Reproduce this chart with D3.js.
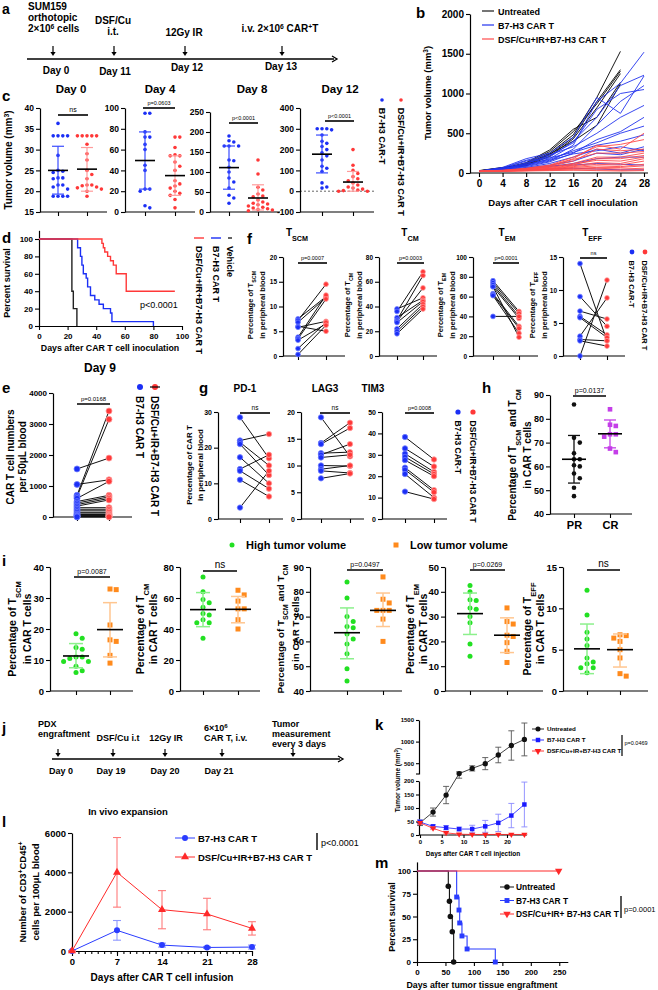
<!DOCTYPE html>
<html>
<head>
<meta charset="utf-8">
<script src="https://cdn.jsdelivr.net/npm/d3@7"></script>
<style>
  body { margin: 0; background: #fff; }
  svg { display: block; font-family: "Liberation Sans", Arial, sans-serif; }
</style>
</head>
<body>
<script>
// ---------------- data ----------------
// a: treatment timeline
const aDays = ["Day 0", "Day 11", "Day 12", "Day 13"]
// b: individual tumour growth curves
const bDays = [0, 4, 8, 12, 16, 20, 24, 28]
const bUntreated = [
  [25, 60, 110, 250, 480, 950, 1530],
  [28, 65, 95, 230, 450, 900, 1300],
  [22, 55, 120, 270, 520, 870, 1280],
  [30, 70, 90, 210, 430, 820, 1250],
  [24, 58, 130, 290, 550, 700, 1140],
  [26, 62, 100, 240, 400, 600, 1120]
]
const bB7H3 = [
  [20, 50, 100, 180, 350, 900, 1130, 1520],
  [22, 60, 150, 200, 400, 700, 1100, 1230],
  [25, 70, 180, 250, 450, 950, 750, 1220],
  [18, 40, 90, 150, 300, 600, 900, 1100],
  [20, 55, 120, 220, 380, 800, 1000, 1050],
  [24, 65, 160, 230, 330, 500, 700, 850],
  [21, 45, 80, 140, 250, 420, 520, 700],
  [19, 50, 110, 170, 280, 380, 500, 590],
  [23, 48, 130, 190, 260, 350, 400, 480],
  [20, 40, 70, 120, 200, 300, 250, 330],
  [18, 35, 60, 100, 150, 250, 230, 300],
  [22, 50, 100, 160, 240, 280, 330, 280],
  [20, 30, 50, 80, 120, 180, 200, 200],
  [19, 35, 60, 90, 100, 120, 110, 100],
  [21, 25, 40, 50, 60, 50, 40, 40]
]
const bCombo = [
  [20, 30, 50, 90, 180, 350, 300, 500],
  [22, 35, 60, 100, 200, 330, 360, 420],
  [18, 28, 45, 80, 150, 300, 280, 300],
  [21, 32, 55, 90, 170, 250, 250, 270],
  [19, 30, 50, 70, 120, 200, 200, 250],
  [20, 25, 40, 60, 100, 180, 180, 220],
  [23, 30, 45, 70, 110, 160, 150, 200],
  [20, 28, 40, 55, 90, 130, 120, 180],
  [18, 25, 35, 50, 80, 110, 100, 150],
  [22, 30, 40, 50, 70, 90, 80, 110],
  [20, 25, 35, 45, 60, 70, 70, 90],
  [19, 22, 30, 40, 50, 60, 50, 60],
  [21, 25, 30, 35, 40, 40, 35, 40],
  [20, 20, 25, 30, 35, 30, 25, 30]
]
// c: tumour volume per day  (stats = [mean, lower, upper])
const cDay0B7 = [36.3, 33.3, 33.3, 33.3, 33.3, 28.6, 25, 24.8, 24.5, 23.2, 23.2, 23, 21.5, 21.5, 21, 20.5, 18.8, 18.8, 18.8, 18.8]
const cDay0Combo = [33.3, 33.3, 33.3, 33.3, 33.3, 31.3, 29, 27.5, 25, 24, 23, 21.5, 21.5, 21.3, 21, 20.8, 20.5, 20, 18.8]
const cDay0Stats = [[25, 19.3, 30.8], [25.3, 20, 30.5]]
const cDay4B7 = [95, 95, 77, 72, 72, 65, 60, 45, 40, 22, 22, 20, 6, 4]
const cDay4Combo = [72, 72, 62, 55, 54, 54, 48, 44, 40, 30, 27, 25, 23, 20, 18, 16, 12, 4]
const cDay4Stats = [[49.5, 22, 77], [35, 16, 54]]
const cDay8B7 = [190, 178, 175, 165, 165, 165, 130, 128, 112, 100, 85, 75, 60, 42, 35, 22]
const cDay8Combo = [130, 95, 62, 55, 45, 40, 38, 30, 25, 22, 20, 18, 15, 12, 10, 8, 6, 5, 3]
const cDay8Stats = [[111, 57, 165], [35, 5, 68]]
const cDay12B7 = [300, 300, 300, 295, 270, 240, 230, 215, 200, 185, 170, 150, 120, 110, 95, 40, 20, 15]
const cDay12Combo = [200, 125, 100, 85, 70, 60, 50, 40, 30, 20, 15, 10, 5, 3, 0, 0]
const cDay12Stats = [[178, 88, 270], [44, 0, 95]]
// d: survival, [day, percent]
const dVehicle = [[0, 100], [23, 40], [24, 20], [26.5, 0]]
const dB7H3 = [[0, 100], [27, 90], [29, 80], [30, 70], [31, 60], [33, 55], [34, 45], [36, 35], [39, 30], [42, 25], [45, 20], [50, 15], [51, 5], [80, 0]]
const dCombo = [[0, 100], [44, 95], [45, 90], [46, 85], [48, 80], [50, 75], [52, 70], [54, 60], [61, 40], [95, 40]]
// e: CAR T numbers day 9 (paired)
const eB7 = [1550, 1050, 700, 650, 600, 500, 450, 400, 350, 300, 250, 200, 150, 100, 80, 50, 30, 20, 10, 5]
const eCombo = [1900, 1200, 3420, 3150, 1150, 700, 650, 600, 550, 300, 250, 200, 150, 100, 80, 50, 30, 20, 10, 5]
// f: T cell subsets (paired)
const fScmB7 = [7.5, 7.2, 6.8, 6, 5.8, 3.8, 3.5, 3.2, 1.5, 0.3]
const fScmCombo = [12, 14.5, 11.8, 5, 7, 12.3, 11.5, 6.5, 6.8, 6.2]
const fCmB7 = [38, 36, 31, 29, 28, 27, 22, 20, 18]
const fCmCombo = [47, 68, 45, 65, 55, 44, 42, 40, 38]
const fEmB7 = [76, 74, 72, 70, 63, 62, 61, 40, 70]
const fEmCombo = [45, 43, 40, 38, 30, 28, 23, 40, 19]
const fEffB7 = [14, 9, 6.8, 6, 5.8, 3, 2.5, 2.3, 0]
const fEffCombo = [2.3, 4.5, 5.6, 3.2, 2.8, 8.8, 2.3, 1.5, 11.5]
// g: exhaustion markers (paired)
const gPd1B7 = [28.5, 22, 21.5, 21, 17.3, 14, 13.5, 11, 3.2]
const gPd1Combo = [17, 23.8, 15, 12.3, 10, 18, 8.5, 6.3, 13.5]
const gLag3B7 = [19, 14.2, 14, 12.3, 12, 11.5, 10, 9.3, 9, 7.6]
const gLag3Combo = [11.7, 18, 17, 12.5, 14, 12, 9.9, 10, 8.6, 8.5]
const gTim3B7 = [38.3, 33, 30.5, 29, 27.5, 24, 23, 21, 12.8]
const gTim3Combo = [27.8, 24.5, 22, 21, 20, 13.5, 12.5, 10, 9.3]
// h: responders
const hPR = [86, 72, 70, 65.5, 63, 63, 60, 60.5, 57, 55, 51, 47.5]
const hCR = [84, 77.5, 77, 73.5, 73.5, 72.5, 67.5, 66]
const hStats = [[63, 53, 73], [73.7, 67.8, 79.5]]
// i: high vs low tumour volume
const iScmHigh = [18.5, 17, 14, 13.5, 11, 11, 10.5, 9.5, 9.5, 8, 6.5, 6]
const iScmLow = [32.7, 32.9, 21.3, 16.5, 16, 11.5, 9]
const iScmStats = [[11.3, 7.5, 15.3], [19.8, 11, 28.5]]
const iCmHigh = [73.5, 64, 59, 57, 54, 50, 49, 46, 44, 44, 34]
const iCmLow = [65, 62, 58, 53, 53, 46, 40]
const iCmStats = [[52.5, 41.5, 63.5], [52.7, 44, 61]]
const iScmCmHigh = [84, 77.5, 70, 68, 66, 65.5, 63, 61, 59, 55, 49, 44]
const iScmCmLow = [86, 77, 75.5, 72.5, 72.5, 72.5, 69, 60]
const iScmCmStats = [[63.5, 53, 73.5], [72.5, 66, 79.5]]
const iEmHigh = [42.5, 40, 36.8, 36.5, 33.5, 33, 30, 27.5, 19, 14]
const iEmLow = [33.5, 28, 27, 22.5, 22, 19.5, 16, 11.5]
const iEmStats = [[31.2, 22.8, 39.5], [22.5, 15.5, 29.5]]
const iEffHigh = [12.2, 9.2, 7.1, 6.3, 5.5, 4, 3.5, 3.3, 2.8, 2.8, 2.2]
const iEffLow = [6.8, 6.7, 6.4, 6, 5, 4, 2.1, 1.8]
const iEffStats = [[5.1, 2.1, 8.1], [5, 2.9, 6.9]]
// j: PDX timeline
const jDays = ["Day 0", "Day 19", "Day 20", "Day 21"]
// k: PDX tumour volume (mean, sd)
const kDays = [0, 3, 6, 9, 12, 15, 18, 21, 24]
const kUnt = [45, 85, 148, 260, 380, 490, 690, 910, 1050]
const kUntSd = [10, 15, 32, 40, 60, 140, 180, 340, 380]
const kB7 = [48, 32, 27, 22, 22, 32, 45, 72, 113]
const kB7Sd = [8, 6, 8, 7, 14, 22, 32, 45, 83]
const kCombo = [45, 25, 8, 3, 2, 2, 2, 2, 2]
const kComboSd = [5, 5, 4, 2, 1, 1, 1, 1, 1]
// l: in vivo expansion
const lDays = [0, 7, 14, 21, 28]
const lB7 = [0, 1050, 300, 180, 200]
const lB7Sd = [0, 500, 100, 50, 100]
const lCombo = [0, 4000, 2100, 1880, 1150]
const lComboSd = [0, 1770, 970, 800, 340]
// m: PDX survival
const mUnt = [[0, 100], [55, 83.3], [57, 66.7], [58.6, 50], [62, 33.3], [64.4, 0]]
const mB7 = [[0, 100], [69.7, 71.4], [73.8, 57.1], [75, 42.9], [79, 28.6], [88, 14.3], [137.6, 0]]
const mCombo = [[0, 100], [249, 100]]

// ---------------- helpers ----------------
const BLUE = "#1b2ff5", RED = "#ff3838", GREEN = "#22e022", ORANGE = "#ff8a1c", PURPLE = "#c43ee8"
const plain = d => String(d)
const svg = d3.select("body").append("svg").attr("width", 658).attr("height", 990)

function rich(t, str) {
  str.split(/(_\{[^}]*\}|\^\{[^}]*\})/).forEach(p => {
    if (!p) return
    if (p.startsWith("_{")) t.append("tspan").attr("baseline-shift", "sub").attr("font-size", "72%").text(p.slice(2, -1))
    else if (p.startsWith("^{")) t.append("tspan").attr("baseline-shift", "super").attr("font-size", "68%").text(p.slice(2, -1))
    else t.append("tspan").text(p)
  })
}
function txt(x, y, str, size, o = {}) {
  const t = svg.append("text").attr("x", x).attr("y", y).attr("font-size", size)
    .attr("font-weight", o.normal ? "normal" : "bold")
    .attr("text-anchor", o.anchor || "start").attr("fill", o.fill || "#000")
  if (o.rot) t.attr("transform", `rotate(${o.rot},${x},${y})`)
  rich(t, str)
  return t
}
function hline(x1, x2, y, w = 1.2, c = "#000") {
  svg.append("line").attr("x1", x1).attr("x2", x2).attr("y1", y).attr("y2", y).attr("stroke", c).attr("stroke-width", w)
}
function vline(x, y1, y2, w = 1.2, c = "#000") {
  svg.append("line").attr("x1", x).attr("x2", x).attr("y1", y1).attr("y2", y2).attr("stroke", c).attr("stroke-width", w)
}
function styleAxis(g, size) {
  g.attr("font-family", null).attr("font-size", size).attr("font-weight", "bold")
  g.select(".domain").attr("stroke-width", 1.2)
  g.selectAll(".tick line").attr("stroke-width", 1.1)
  return g
}
function yAxis(x, y, ticks, size, tick = 4) {
  const g = svg.append("g").attr("transform", `translate(${x},0)`)
    .call(d3.axisLeft(y).tickValues(ticks).tickSize(tick).tickSizeOuter(0).tickPadding(2).tickFormat(plain))
  return styleAxis(g, size)
}
// category axis: base line from x0 to xEnd, ticks at the group centres
function catAxis(x0, xEnd, yb, xs, labels, size) {
  hline(x0, xEnd, yb)
  const g = svg.append("g").attr("transform", `translate(0,${yb})`)
    .call(d3.axisBottom(xs).tickSize(4).tickSizeOuter(0).tickPadding(3).tickFormat(labels ? d => d : ""))
  styleAxis(g, size)
  g.select(".domain").remove()
}
function swarm(vals, y, cx, r) {
  const placed = []
  const step = 2 * r + 1.2
  return vals.slice().sort((a, b) => b - a).map(v => {
    const py = y(v)
    let off = 0
    for (let k = 0; k < 40; k++) {
      off = (k % 2 === 1 ? 1 : -1) * Math.ceil(k / 2) * step
      if (!placed.some(p => Math.abs(p.y - py) < 2 * r + 0.6 && Math.abs(p.x - (cx + off)) < step - 0.1)) break
    }
    const p = { x: cx + off, y: py }
    placed.push(p)
    return p
  })
}
function sigBar(x1, x2, yb, label, size, normal = true) {
  hline(x1, x2, yb, 1.6)
  txt((x1 + x2) / 2, yb - 3, label, size, { anchor: "middle", normal })
}

// scatter with mean +/- error
function dotPlot(o) {
  const y = d3.scaleLinear().domain(o.domain).range([o.bottom, o.top])
  const names = o.names || ["A", "B"]
  const xs = d3.scalePoint().domain(names).range(o.cx)
  yAxis(o.x0, y, o.ticks, o.fs)
  catAxis(o.x0, o.xEnd, o.bottom, xs, !!o.names, o.lfs || o.fs)
  o.groups.forEach((gr, i) => {
    const cx = xs(names[i])
    const pts = swarm(gr.vals, y, cx, o.r)
    if (gr.shape === "square") {
      svg.append("g").selectAll("rect").data(pts).join("rect")
        .attr("x", d => d.x - o.r).attr("y", d => d.y - o.r).attr("width", 2 * o.r).attr("height", 2 * o.r).attr("fill", gr.color)
    } else {
      svg.append("g").selectAll("circle").data(pts).join("circle")
        .attr("cx", d => d.x).attr("cy", d => d.y).attr("r", o.r).attr("fill", gr.color)
    }
    const [m, lo, hi] = gr.stats
    const g = svg.append("g").attr("stroke", gr.err).attr("stroke-width", o.ew || 1.2)
    g.append("line").attr("x1", cx).attr("x2", cx).attr("y1", y(lo)).attr("y2", y(hi))
    g.selectAll("line.cap").data([lo, hi]).join("line").attr("class", "cap")
      .attr("x1", cx - o.cap).attr("x2", cx + o.cap).attr("y1", d => y(d)).attr("y2", d => y(d))
    svg.append("line").attr("x1", cx - o.mw).attr("x2", cx + o.mw).attr("y1", y(m)).attr("y2", y(m))
      .attr("stroke", "#000").attr("stroke-width", 1.6)
  })
  return y
}

// before/after paired plot
function pairPlot(o) {
  const y = d3.scaleLinear().domain(o.domain).range([o.bottom, o.top])
  const xs = d3.scalePoint().domain(["pre", "post"]).range(o.cx)
  yAxis(o.x0, y, o.ticks, o.fs)
  catAxis(o.x0, o.xEnd, o.bottom, xs, false, o.fs)
  svg.append("g").selectAll("line").data(o.pre).join("line")
    .attr("x1", xs("pre")).attr("x2", xs("post"))
    .attr("y1", d => y(d)).attr("y2", (d, i) => y(o.post[i]))
    .attr("stroke", "#111").attr("stroke-width", 1)
  ;[["pre", o.pre, BLUE, "#6f7cff"], ["post", o.post, RED, "#ff9a9a"]].forEach(([k, vals, c, s]) => {
    svg.append("g").selectAll("circle").data(vals).join("circle")
      .attr("cx", xs(k)).attr("cy", d => y(d)).attr("r", o.r)
      .attr("fill", c).attr("stroke", s).attr("stroke-width", 0.8)
  })
  return y
}

// rotated two-item legend (dot above, text downward)
function rotLegend(xb, xr, yd, size, texts, r = 2.2) {
  svg.append("circle").attr("cx", xb).attr("cy", yd).attr("r", r).attr("fill", BLUE)
  svg.append("circle").attr("cx", xr).attr("cy", yd).attr("r", r).attr("fill", RED)
  txt(xb - size * 0.36, yd + r + 6, texts[0], size, { rot: 90 })
  txt(xr - size * 0.36, yd + r + 6, texts[1], size, { rot: 90 })
}

function arrowDown(x, y1, y2) {
  vline(x, y1, y2 - 3, 1.2)
  svg.append("path").attr("d", d3.line()([[x - 2.6, y2 - 4], [x + 2.6, y2 - 4], [x, y2]])).attr("fill", "#000")
}
function timeline(x1, x2, y) {
  hline(x1, x2 - 3, y, 1.4)
  svg.append("path").attr("d", d3.line()([[x2 - 5, y - 3], [x2, y], [x2 - 5, y + 3]])).attr("fill", "none").attr("stroke", "#000").attr("stroke-width", 1.3)
}

function marker(x, y, type, size, color, rot = 0) {
  svg.append("path").attr("d", d3.symbol().type(type).size(size)())
    .attr("transform", `translate(${x},${y}) rotate(${rot})`).attr("fill", color)
}

// ---------------- a ----------------
txt(2, 14, "a", 14)
txt(28, 10, "SUM159", 10)
txt(28, 21, "orthotopic", 10)
txt(28, 32, "2×10^{6} cells", 10)
txt(113, 24, "DSF/Cu", 10, { anchor: "middle" })
txt(113, 35, "i.t.", 10, { anchor: "middle" })
txt(184, 36, "12Gy IR", 10, { anchor: "middle" })
txt(280, 32, "i.v. 2×10^{6} CAR^{+}T", 10, { anchor: "middle" })
timeline(27, 337, 59)
const aArrowX = [53, 114, 185, 282]
const aLabelX = [56, 115, 187, 281], aLabelY = [74, 75, 71, 70]
aDays.forEach((d, i) => {
  arrowDown(aArrowX[i], 46, 56)
  txt(aLabelX[i], aLabelY[i], d, 10, { anchor: "middle" })
})

// ---------------- b ----------------
txt(416, 18, "b", 15)
{
  const x = d3.scaleLinear().domain([0, 28]).range([479, 644])
  const y = d3.scaleLinear().domain([0, 2000]).range([173, 14])
  const gx = svg.append("g").attr("transform", "translate(0,173)")
    .call(d3.axisBottom(x).tickValues(d3.range(0, 29, 4)).tickSize(4).tickSizeOuter(0).tickPadding(3).tickFormat(plain))
  styleAxis(gx, 10)
  gx.select(".domain").remove()
  hline(470, 648, 173)
  yAxis(470, y, [0, 500, 1000, 1500, 2000], 10)
  const line = d3.line().x((d, i) => x(bDays[i])).y(d => y(d))
  const draw = (data, c, w) => svg.append("g").selectAll("path").data(data).join("path")
    .attr("d", line).attr("fill", "none").attr("stroke", c).attr("stroke-width", w)
  draw(bUntreated, "#1a1a1a", 1)
  draw(bB7H3, "#2233ee", 0.9)
  draw(bCombo, "#ff4a4a", 0.9)
  txt(431, 93, "Tumor volume (mm^{3})", 9.5, { rot: -90, anchor: "middle" })
  txt(563, 206, "Days after CAR T cell inoculation", 9.5, { anchor: "middle" })
  const legB = [["Untreated", "#1a1a1a"], ["B7-H3 CAR T", "#2233ee"], ["DSF/Cu+IR+B7-H3 CAR T", "#ff4a4a"]]
  legB.forEach(([t, c], i) => {
    hline(482, 494, 11 + i * 14, 1.2, c)
    txt(498, 14.5 + i * 14, t, 9)
  })
}

// ---------------- c ----------------
txt(2, 101, "c", 15)
txt(12, 160, "Tumor volume (mm^{3})", 10, { rot: -90, anchor: "middle" })
const cGroups = (b, r, s) => [
  { vals: b, stats: s[0], color: BLUE, err: "#3a4cff" },
  { vals: r, stats: s[1], color: RED, err: "#ff9c9c" }
]
const cBase = { bottom: 212, r: 1.8, cap: 6, mw: 10, fs: 8.5, ew: 1.2 }
dotPlot({ ...cBase, x0: 40, xEnd: 107, top: 108, cx: [58, 87], domain: [15, 40], ticks: [15, 20, 25, 30, 35, 40], groups: cGroups(cDay0B7, cDay0Combo, cDay0Stats) })
dotPlot({ ...cBase, x0: 125, xEnd: 195, top: 108, cx: [145, 175], domain: [0, 100], ticks: [0, 20, 40, 60, 80, 100], groups: cGroups(cDay4B7, cDay4Combo, cDay4Stats) })
dotPlot({ ...cBase, x0: 210, xEnd: 280, top: 112, cx: [229, 258], domain: [0, 250], ticks: [0, 50, 100, 150, 200, 250], groups: cGroups(cDay8B7, cDay8Combo, cDay8Stats) })
{
  const y = d3.scaleLinear().domain([-100, 400]).range([212, 108])
  svg.append("line").attr("x1", 300).attr("x2", 374).attr("y1", y(0)).attr("y2", y(0))
    .attr("stroke", "#666").attr("stroke-width", 1).attr("stroke-dasharray", "2,2")
}
dotPlot({ ...cBase, x0: 300, xEnd: 374, top: 108, cx: [322, 353], domain: [-100, 400], ticks: [-100, 0, 100, 200, 300, 400], groups: cGroups(cDay12B7, cDay12Combo, cDay12Stats) })
txt(71, 93, "Day 0", 11.5, { anchor: "middle" })
txt(160, 93, "Day 4", 11.5, { anchor: "middle" })
txt(252, 93, "Day 8", 11.5, { anchor: "middle" })
txt(340, 93, "Day 12", 11.5, { anchor: "middle" })
sigBar(58, 88, 115, "ns", 7)
sigBar(143, 175, 108, "p=0.0603", 5.5)
sigBar(229, 258, 123, "p<0.0001", 5.5)
sigBar(325, 354, 121, "p<0.0001", 5.5)
rotLegend(382, 401, 100, 9, ["B7-H3 CAR-T", "DSF/Cu+IR+B7-H3 CAR T"], 1.8)

// ---------------- d ----------------
txt(2, 243, "d", 15)
{
  const x = d3.scaleLinear().domain([0, 100]).range([39, 182])
  const y = d3.scaleLinear().domain([0, 110]).range([326, 230.3])
  const gx = svg.append("g").attr("transform", "translate(0,326)")
    .call(d3.axisBottom(x).tickValues(d3.range(0, 101, 20)).tickSize(4).tickSizeOuter(0).tickPadding(3).tickFormat(plain))
  styleAxis(gx, 8)
  yAxis(39, y, d3.range(0, 101, 20), 8)
  const step = d3.line().curve(d3.curveStepAfter).x(d => x(d[0])).y(d => y(d[1]))
  ;[[dVehicle, "#222"], [dB7H3, BLUE], [dCombo, RED]].forEach(([d, c]) =>
    svg.append("path").attr("d", step(d)).attr("fill", "none").attr("stroke", c).attr("stroke-width", 1.4))
  txt(10, 283, "Percent survival", 9, { rot: -90, anchor: "middle" })
  txt(110, 351, "Days after CAR T cell inoculation", 8.8, { anchor: "middle" })
  txt(140, 308, "p<0.0001", 9, { normal: true })
  const legD = [[199, RED, 10, "DSF/Cu+IR+B7-H3 CAR T"], [216, BLUE, 10, "B7-H3 CAR T"], [230, "#222", 4, "Vehicle"]]
  legD.forEach(([cx, c, w, t]) => {
    hline(cx - w / 2, cx + w / 2, 238, 1.4, c)
    txt(cx - 3.2, 246, t, 9, { rot: 90 })
  })
}

// ---------------- f ----------------
txt(247, 244, "f", 15)
const fBase = { top: 257, bottom: 356, r: 2.4, fs: 6.5 }
pairPlot({ ...fBase, x0: 283, xEnd: 345, cx: [298, 326], domain: [0, 20], ticks: [0, 5, 10, 15, 20], pre: fScmB7, post: fScmCombo })
pairPlot({ ...fBase, x0: 379, xEnd: 437, cx: [397, 423], domain: [0, 80], ticks: [0, 20, 40, 60, 80], pre: fCmB7, post: fCmCombo })
pairPlot({ ...fBase, x0: 473, xEnd: 538, cx: [493, 519], domain: [0, 100], ticks: [0, 20, 40, 60, 80, 100], pre: fEmB7, post: fEmCombo })
pairPlot({ ...fBase, x0: 563, xEnd: 625, cx: [580, 607], domain: [0, 15], ticks: [0, 5, 10, 15], pre: fEffB7, post: fEffCombo })
txt(297, 236, "T_{SCM}", 10, { anchor: "middle" })
txt(410, 236, "T_{CM}", 10, { anchor: "middle" })
txt(507, 236, "T_{EM}", 10, { anchor: "middle" })
txt(592, 236, "T_{EFF}", 10, { anchor: "middle" })
sigBar(298, 327, 263, "p=0.0007", 5.5)
sigBar(397, 424, 263, "p=0.0003", 5.5)
sigBar(493, 519, 263, "p=0.0001", 5.5)
sigBar(580, 607, 258, "ns", 5.5)
;[[253, 265, "T_{SCM}"], [350, 362, "T_{CM}"], [443, 455, "T_{EM}"], [535, 547, "T_{EFF}"]].forEach(([x1, x2, t]) => {
  txt(x1, 305, "Percentage of " + t, 7.5, { rot: -90, anchor: "middle" })
  txt(x2, 305, "in peripheral blood", 7.5, { rot: -90, anchor: "middle" })
})
rotLegend(632, 645, 252, 7.5, ["B7-H3 CAR-T", "DSF/Cu+IR+B7-H3 CAR T"], 2.4)

// ---------------- e ----------------
txt(100, 372, "Day 9", 12, { anchor: "middle" })
txt(2, 393, "e", 15)
{
  pairPlot({ top: 393, bottom: 517, r: 3, fs: 8, x0: 53, xEnd: 132, cx: [77, 109], domain: [0, 4000], ticks: [0, 1000, 2000, 3000, 4000], pre: eB7, post: eCombo })
  sigBar(77, 110, 404, "p=0.0168", 6)
  txt(14, 457, "CAR T cell numbers", 10, { rot: -90, anchor: "middle" })
  txt(26, 457, "per 50μL blood", 10, { rot: -90, anchor: "middle" })
  rotLegend(140, 155, 387, 10, ["B7-H3 CAR T", "DSF/Cu+IR+B7-H3 CAR T"], 3)
  hline(150, 160, 387, 1.2, "#000")
}

// ---------------- g ----------------
txt(199, 393, "g", 15)
const gBase = { top: 412, bottom: 519, r: 2.7, fs: 7 }
pairPlot({ ...gBase, x0: 218, xEnd: 283, cx: [240, 269], domain: [0, 30], ticks: [0, 10, 20, 30], pre: gPd1B7, post: gPd1Combo })
pairPlot({ ...gBase, x0: 301, xEnd: 364, cx: [321, 350], domain: [0, 20], ticks: [0, 5, 10, 15, 20], pre: gLag3B7, post: gLag3Combo })
pairPlot({ ...gBase, x0: 382, xEnd: 447, cx: [405, 434], domain: [0, 50], ticks: [0, 10, 20, 30, 40, 50], pre: gTim3B7, post: gTim3Combo })
txt(245, 392, "PD-1", 10, { anchor: "middle" })
txt(325, 392, "LAG3", 10, { anchor: "middle" })
txt(373, 392, "TIM3", 10, { anchor: "middle" })
sigBar(240, 270, 413, "ns", 6.5)
sigBar(320, 350, 413, "ns", 6.5)
sigBar(405, 434, 413, "p=0.0008", 5.5)
txt(192, 465, "Percentage of CAR T", 8, { rot: -90, anchor: "middle" })
txt(203, 465, "in peripheral blood", 8, { rot: -90, anchor: "middle" })
rotLegend(458, 473, 412, 8.5, ["B7-H3 CAR-T", "DSF/Cu+IR+B7-H3 CAR T"], 2.6)

// ---------------- h ----------------
txt(482, 393, "h", 15)
dotPlot({
  x0: 550, xEnd: 632, top: 395, bottom: 514, cx: [574, 610], domain: [40, 90], ticks: [40, 50, 60, 70, 80, 90],
  names: ["PR", "CR"], r: 2.3, cap: 6, mw: 12, fs: 9, lfs: 11, ew: 1.3,
  groups: [
    { vals: hPR, stats: hStats[0], color: "#111", err: "#111" },
    { vals: hCR, stats: hStats[1], color: PURPLE, err: PURPLE, shape: "square" }
  ]
})
sigBar(573, 606, 396, "p=0.0137", 7)
txt(516, 455, "Percentage of T_{SCM} and T_{CM}", 10, { rot: -90, anchor: "middle" })
txt(531, 455, "in CAR T cells", 10, { rot: -90, anchor: "middle" })

// ---------------- i ----------------
svg.append("circle").attr("cx", 232).attr("cy", 545).attr("r", 2.5).attr("fill", GREEN)
txt(246, 549, "High tumor volume", 11)
svg.append("rect").attr("x", 393.5).attr("y", 542.5).attr("width", 5).attr("height", 5).attr("fill", ORANGE)
txt(410, 549, "Low tumor volume", 11)
txt(2, 566, "i", 15)
const iGroups = (h, l, s) => [
  { vals: h, stats: s[0], color: GREEN, err: "#8cf08c" },
  { vals: l, stats: s[1], color: ORANGE, err: "#ffc690", shape: "square" }
]
const iBase = { top: 567, bottom: 691, r: 2.5, cap: 7, mw: 13, fs: 9.5, ew: 1.5 }
dotPlot({ ...iBase, x0: 50, xEnd: 133, cx: [76, 110], domain: [0, 40], ticks: [0, 10, 20, 30, 40], groups: iGroups(iScmHigh, iScmLow, iScmStats) })
dotPlot({ ...iBase, x0: 180, xEnd: 260, cx: [203, 238], domain: [0, 80], ticks: [0, 20, 40, 60, 80], groups: iGroups(iCmHigh, iCmLow, iCmStats) })
dotPlot({ ...iBase, x0: 310, xEnd: 402, cx: [347, 383], domain: [40, 90], ticks: [40, 50, 60, 70, 80, 90], groups: iGroups(iScmCmHigh, iScmCmLow, iScmCmStats) })
dotPlot({ ...iBase, x0: 445, xEnd: 543, cx: [470, 507], domain: [0, 50], ticks: [0, 10, 20, 30, 40, 50], groups: iGroups(iEmHigh, iEmLow, iEmStats) })
dotPlot({ ...iBase, x0: 563, xEnd: 648, cx: [587, 620], domain: [0, 15], ticks: [0, 5, 10, 15], groups: iGroups(iEffHigh, iEffLow, iEffStats) })
sigBar(74, 110, 577, "p=0.0087", 7)
sigBar(203, 237, 571, "ns", 10)
sigBar(347, 383, 570, "p=0.0497", 7)
sigBar(470, 505, 570, "p=0.0269", 7)
sigBar(587, 620, 570, "ns", 10)
;[[16, 31, "Percentage of T_{SCM}", 10.5], [144, 157, "Percentage of T_{CM}", 10.5], [284, 299, "Percentage of T_{SCM} and T_{CM}", 9.8],
  [414, 427, "Percentage of T_{EM}", 10.5], [531, 544, "Percentage of T_{EFF}", 10.5]].forEach(([x1, x2, t, s]) => {
  txt(x1, 629, t, s, { rot: -90, anchor: "middle" })
  txt(x2, 629, "in CAR T cells", s, { rot: -90, anchor: "middle" })
})

// ---------------- j ----------------
txt(2, 733, "j", 15)
txt(38, 727, "PDX", 9)
txt(38, 737, "engraftment", 9)
txt(118, 741, "DSF/Cu i.t", 9, { anchor: "middle" })
txt(166, 741, "12Gy IR", 9, { anchor: "middle" })
txt(204, 731, "6×10^{6}", 9)
txt(204, 741, "CAR T, i.v.", 9)
txt(272, 727, "Tumor", 9)
txt(272, 737, "measurement", 9)
txt(272, 747, "every 3 days", 9)
timeline(52, 343, 759)
;[58, 113, 165, 222, 293].forEach(x => arrowDown(x, 749, 757))
const jLabelX = [61, 111, 165, 219]
jDays.forEach((d, i) => txt(jLabelX[i], 774, d, 9, { anchor: "middle" }))

// ---------------- k ----------------
txt(375, 730, "k", 15)
{
  const x = d3.scaleLinear().domain([0, 24.6]).range([420, 527])
  const yLo = d3.scaleLinear().domain([0, 200]).range([835, 781])
  const yHi = d3.scaleLinear().domain([250, 1500]).range([774, 720])
  const yGap = d3.scaleLinear().domain([200, 250]).range([781, 774])
  const y = v => v <= 200 ? yLo(v) : v >= 250 ? yHi(v) : yGap(v)
  const gx = svg.append("g").attr("transform", "translate(0,835)")
    .call(d3.axisBottom(x).tickValues([0, 5, 10, 15, 20]).tickSize(3).tickSizeOuter(0).tickPadding(2).tickFormat(plain))
  styleAxis(gx, 6)
  gx.select(".domain").attr("d", "M419,0H527")
  yAxis(419, yLo, [0, 50, 100, 150, 200], 6, 3)
  yAxis(419, yHi, [500, 1000, 1500], 6, 3)
  hline(416, 419, 774, 1.1)
  const series = [
    [kUnt, kUntSd, "#111", d3.symbolCircle, 22, 0],
    [kB7, kB7Sd, "#1a1aff", d3.symbolSquare, 20, 0],
    [kCombo, kComboSd, "#ff2020", d3.symbolTriangle, 16, 180]
  ]
  const errC = ["#555", "#8a8aff", "#ff8a8a"]
  series.forEach(([m, sd, c, type, size, rot], si) => {
    const g = svg.append("g")
    g.selectAll("line.e").data(m).join("line").attr("class", "e")
      .attr("x1", (d, i) => x(kDays[i])).attr("x2", (d, i) => x(kDays[i]))
      .attr("y1", (d, i) => y(Math.max(0, d - sd[i]))).attr("y2", (d, i) => y(d + sd[i]))
      .attr("stroke", errC[si]).attr("stroke-width", 0.9)
    ;[-1, 1].forEach(sg => g.selectAll("line.c" + sg).data(m).join("line").attr("class", "c" + sg)
      .attr("x1", (d, i) => x(kDays[i]) - 3).attr("x2", (d, i) => x(kDays[i]) + 3)
      .attr("y1", (d, i) => y(Math.max(0, d + sg * sd[i]))).attr("y2", (d, i) => y(Math.max(0, d + sg * sd[i])))
      .attr("stroke", errC[si]).attr("stroke-width", 0.9))
    g.append("path").attr("d", d3.line().x((d, i) => x(kDays[i])).y(d => y(d))(m))
      .attr("fill", "none").attr("stroke", c).attr("stroke-width", 0.8)
    g.selectAll("path.m").data(m).join("path").attr("class", "m")
      .attr("d", d3.symbol().type(type).size(size)())
      .attr("transform", (d, i) => `translate(${x(kDays[i])},${y(d)}) rotate(${rot})`).attr("fill", c)
  })
  txt(400, 780, "Tumor volume (mm^{3})", 6.5, { rot: -90, anchor: "middle" })
  txt(473, 856, "Days after CAR T cell injection", 6.5, { anchor: "middle" })
  const legK = [["Untreated", "#111", d3.symbolCircle, 0], ["B7-H3 CAR T", "#1a1aff", d3.symbolSquare, 0], ["DSF/Cu+IR+B7-H3 CAR T", "#ff2020", d3.symbolTriangle, 180]]
  legK.forEach(([t, c, type, rot], i) => {
    const yy = 729 + i * 11
    hline(532, 544, yy, 0.9, c)
    marker(538, yy, type, 20, c, rot)
    txt(547, yy + 2.3, t, 6.2)
  })
  vline(622, 735, 756, 1.2)
  txt(624.5, 745, "p=0.0469", 5.5, { normal: true })
}

// ---------------- l ----------------
txt(2, 827, "l", 15)
txt(128, 815, "In vivo expansion", 9.5, { anchor: "middle" })
{
  const x = d3.scaleLinear().domain([0, 28]).range([72, 252])
  const y = d3.scaleLinear().domain([0, 6000]).range([951, 833])
  const gMin = svg.append("g").attr("transform", "translate(0,951)")
    .call(d3.axisBottom(x).tickValues(d3.range(0, 29)).tickSize(3).tickSizeOuter(0).tickFormat(""))
  styleAxis(gMin, 9.5)
  const gx = svg.append("g").attr("transform", "translate(0,951)")
    .call(d3.axisBottom(x).tickValues(lDays).tickSize(5).tickSizeOuter(0).tickPadding(2).tickFormat(plain))
  styleAxis(gx, 9.5)
  yAxis(72, y, [0, 2000, 4000, 6000], 9.5)
  const series = [[lB7, lB7Sd, "#2a3cff", "#8e98ff", d3.symbolCircle, 0], [lCombo, lComboSd, "#ff2a2a", "#ff7a7a", d3.symbolTriangle, 0]]
  series.forEach(([m, sd, c, ec, type, rot]) => {
    const g = svg.append("g")
    g.selectAll("line.e").data(m).join("line").attr("class", "e")
      .attr("x1", (d, i) => x(lDays[i])).attr("x2", (d, i) => x(lDays[i]))
      .attr("y1", (d, i) => y(d - sd[i])).attr("y2", (d, i) => y(d + sd[i]))
      .attr("stroke", ec).attr("stroke-width", 1.1)
    ;[-1, 1].forEach(sg => g.selectAll("line.c" + sg).data(m).join("line").attr("class", "c" + sg)
      .attr("x1", (d, i) => x(lDays[i]) - 4).attr("x2", (d, i) => x(lDays[i]) + 4)
      .attr("y1", (d, i) => y(d + sg * sd[i])).attr("y2", (d, i) => y(d + sg * sd[i]))
      .attr("stroke", ec).attr("stroke-width", 1.1))
    g.append("path").attr("d", d3.line().x((d, i) => x(lDays[i])).y(d => y(d))(m))
      .attr("fill", "none").attr("stroke", c).attr("stroke-width", 1)
    g.selectAll("path.m").data(m).join("path").attr("class", "m")
      .attr("d", d3.symbol().type(type).size(28)())
      .attr("transform", (d, i) => `translate(${x(lDays[i])},${y(d)}) rotate(${rot})`).attr("fill", c)
  })
  txt(26, 892, "Number of CD3^{+}CD45^{+}", 9.5, { rot: -90, anchor: "middle" })
  txt(39, 892, "cells per 100μL blood", 9.5, { rot: -90, anchor: "middle" })
  txt(162, 981, "Days after CAR T cell infusion", 10, { anchor: "middle" })
  ;[["B7-H3 CAR T", "#2a3cff", d3.symbolCircle, 838], ["DSF/Cu+IR+B7-H3 CAR T", "#ff2a2a", d3.symbolTriangle, 857]].forEach(([t, c, type, yy]) => {
    hline(175, 195, yy, 1, c)
    marker(185, yy, type, 28, c)
    txt(198, yy + 3.5, t, 9.5)
  })
  vline(317, 833, 850, 1.4)
  txt(321, 846, "p<0.0001", 9, { normal: true })
}

// ---------------- m ----------------
txt(375, 868, "m", 15)
{
  const x = d3.scaleLinear().domain([0, 265]).range([417, 567.8])
  const y = d3.scaleLinear().domain([0, 110]).range([962, 861.9])
  const gx = svg.append("g").attr("transform", "translate(0,962)")
    .call(d3.axisBottom(x).tickValues(d3.range(0, 251, 50)).tickSize(4).tickSizeOuter(0).tickPadding(3).tickFormat(plain))
  styleAxis(gx, 8)
  yAxis(417, y, [0, 25, 50, 75, 100], 8)
  const step = d3.line().curve(d3.curveStepAfter).x(d => x(d[0])).y(d => y(d[1]))
  const series = [[mUnt, "#111", d3.symbolCircle, 0], [mB7, "#2a3cff", d3.symbolSquare, 0], [mCombo, "#ff2a2a", d3.symbolTriangle, 180]]
  series.forEach(([d, c, type, rot]) => {
    svg.append("path").attr("d", step(d)).attr("fill", "none").attr("stroke", c).attr("stroke-width", 1.1)
    svg.append("g").selectAll("path").data(d.slice(1)).join("path")
      .attr("d", d3.symbol().type(type).size(24)())
      .attr("transform", p => `translate(${x(p[0])},${y(p[1])}) rotate(${rot})`).attr("fill", c)
  })
  txt(395, 917, "Percent survival", 9, { rot: -90, anchor: "middle" })
  txt(482, 988, "Days after tumor tissue engraftment", 8.8, { anchor: "middle" })
  const legM = [["Untreated", "#111", d3.symbolCircle, 0], ["B7-H3 CAR T", "#2a3cff", d3.symbolSquare, 0], ["DSF/Cu+IR+ B7-H3 CAR T", "#ff2a2a", d3.symbolTriangle, 180]]
  legM.forEach(([t, c, type, rot], i) => {
    const yy = 887 + i * 13.5
    hline(500, 514, yy, 1, c)
    marker(507, yy, type, 24, c, rot)
    txt(516, yy + 3.2, t, 8.4)
  })
  vline(621, 896, 918, 1.3)
  txt(624, 912, "p=0.0001", 7.5, { normal: true })
}
</script>
</body>
</html>
